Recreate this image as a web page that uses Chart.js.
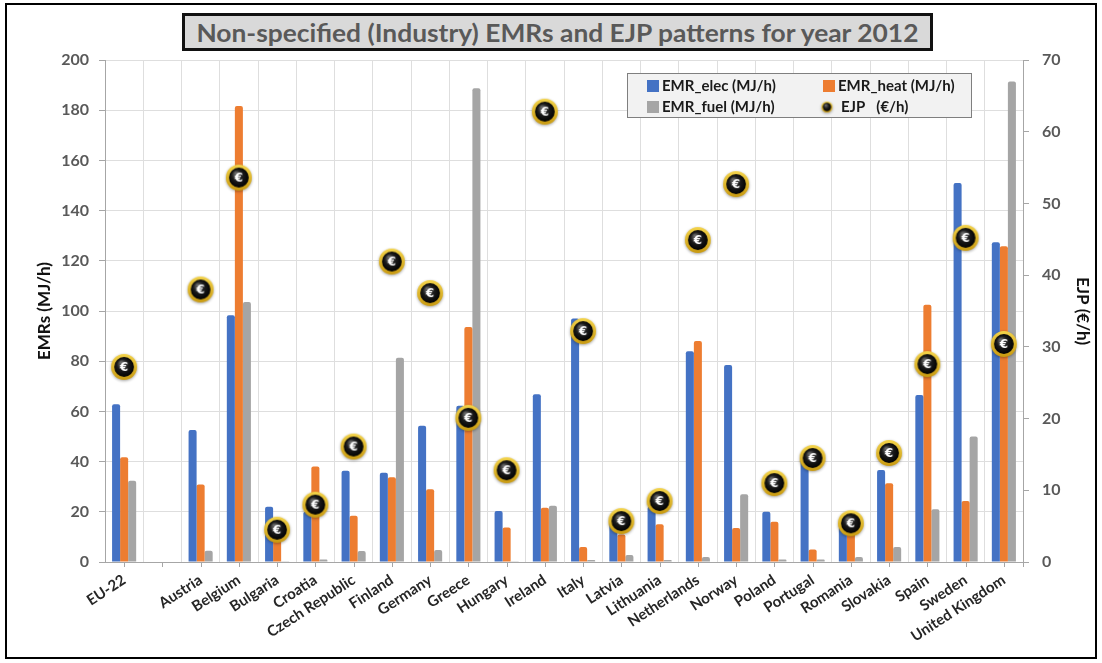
<!DOCTYPE html>
<html>
<head>
<meta charset="utf-8">
<script src="https://cdn.jsdelivr.net/npm/chart.js@4/dist/chart.umd.min.js"></script>
<style>
  html, body { margin: 0; padding: 0; background: #fff; }
  #wrap { position: relative; width: 1102px; height: 663px; overflow: hidden; background: #fff; }
  #chart { position: absolute; left: 0; top: 0; }
  #frame { position: absolute; left: 5px; top: 3px; width: 1092px; height: 656px; border: 2px solid #000; box-sizing: border-box; pointer-events: none; }
  #title { position: absolute; left: 182px; top: 13px; width: 751px; height: 38px; box-sizing: border-box;
           border: 3px solid #111; background: #d9d9d9; color: #595959; font: bold 25px Lato, sans-serif;
           display: flex; align-items: center; justify-content: center; white-space: nowrap; overflow: hidden; }
  #title span { display: inline-block; transform-origin: center center; }
</style>
</head>
<body>
<div id="wrap">
  <canvas id="chart" width="1102" height="663"></canvas>
  <div id="frame"></div>
  <div id="title"><span id="titleText">Non-specified (Industry) EMRs and EJP patterns for year 2012</span></div>
</div>
<script>
// Countries (the empty slot separates the EU-22 aggregate from the member states)
const categories = ['EU-22', '', 'Austria', 'Belgium', 'Bulgaria', 'Croatia', 'Czech Republic', 'Finland',
  'Germany', 'Greece', 'Hungary', 'Ireland', 'Italy', 'Latvia', 'Lithuania', 'Netherlands', 'Norway',
  'Poland', 'Portugal', 'Romania', 'Slovakia', 'Spain', 'Sweden', 'United Kingdom'];

// Energy rates in MJ/h (left axis)
const emrElec = [62.8, null, 52.6, 98.3, 22, 20, 36.4, 35.6, 54.3, 62.3, 20.3, 66.8, 97, 16, 22, 84, 78.5, 20, 41, 14, 36.7, 66.5, 151, 127.4];
const emrHeat = [41.7, null, 30.9, 181.7, 9, 38, 18.4, 33.8, 29, 93.6, 13.7, 21.6, 6, 11, 15, 88, 13.5, 16, 5, 12, 31.4, 102.5, 24.3, 125.8];
const emrFuel = [32.4, null, 4.5, 103.6, 0.3, 1, 4.4, 81.4, 4.8, 188.7, 0.3, 22.4, 0.8, 2.8, 0.8, 2, 27, 1, 1, 2, 6, 21, 50, 191.4];

// Energy job price in €/h (right axis)
const ejp = [27.2, null, 38.0, 53.6, 4.5, 8.0, 16.1, 41.9, 37.5, 20.1, 12.8, 62.8, 32.2, 5.7, 8.5, 44.9, 52.7, 11.0, 14.5, 5.4, 15.2, 27.6, 45.2, 30.4];

// Axis ranges
const emrAxis = { min: 0, max: 200, step: 20 };
const ejpAxis = { min: 0, max: 70, step: 10 };

const COLORS = { elec: '#4472C4', heat: '#ED7D31', fuel: '#A5A5A5', gold: '#E2B61C' };

// Black coin with a gold rim and a white euro sign
function euroCoin(r, withSign) {
  const size = Math.ceil(r * 2 + 8);
  const c = document.createElement('canvas');
  c.width = size; c.height = size;
  const g = c.getContext('2d');
  const cx = size / 2, cy = size / 2;
  g.shadowColor = 'rgba(0,0,0,0.35)';
  g.shadowBlur = 3;
  g.shadowOffsetY = 1;
  g.beginPath(); g.arc(cx, cy, r, 0, Math.PI * 2);
  const rim = g.createLinearGradient(0, cy - r, 0, cy + r);
  rim.addColorStop(0, '#F3D34A'); rim.addColorStop(1, '#C99A10');
  g.fillStyle = rim; g.fill();
  g.shadowColor = 'transparent';
  const inner = g.createRadialGradient(cx - r * 0.25, cy - r * 0.35, 0.5, cx, cy, r * 0.8);
  inner.addColorStop(0, '#6a6a6a'); inner.addColorStop(0.5, '#1c1c1c'); inner.addColorStop(1, '#000');
  g.beginPath(); g.arc(cx, cy, r * 0.76, 0, Math.PI * 2);
  g.fillStyle = inner; g.fill();
  if (withSign) {
    g.fillStyle = '#fff';
    g.font = 'bold ' + Math.round(r * 0.95) + 'px "DejaVu Sans"';
    g.textAlign = 'center'; g.textBaseline = 'middle';
    g.fillText('€', cx, cy + 1);
  }
  return c;
}

// Legend box placed inside the plot area, two columns by two rows
const insideLegend = {
  id: 'insideLegend',
  afterDraw(chart) {
    const ctx = chart.ctx;
    const box = { x: 627.5, y: 73.5, w: 344, h: 44 };
    ctx.save();
    ctx.fillStyle = '#f2f2f2';
    ctx.strokeStyle = '#7f7f7f';
    ctx.lineWidth = 1;
    ctx.fillRect(box.x, box.y, box.w, box.h);
    ctx.strokeRect(box.x, box.y, box.w, box.h);
    ctx.font = 'bold 15px Lato';
    ctx.textBaseline = 'middle';
    const slots = [[647, 86], [823, 86], [647, 107], [823, 107]];
    chart.data.datasets.forEach((ds, k) => {
      const [sx, sy] = slots[k];
      if (ds.type === 'line') {
        ctx.drawImage(legendCoin, sx + 4 - legendCoin.width / 2, sy - legendCoin.height / 2);
        ctx.fillStyle = '#1a1a1a';
        ctx.fillText(ds.label, sx + 18, sy);
      } else {
        ctx.fillStyle = ds.backgroundColor;
        ctx.fillRect(sx, sy - 6, 12, 12);
        ctx.fillStyle = '#1a1a1a';
        ctx.fillText(ds.label, sx + 15, sy);
      }
    });
    ctx.restore();
  }
};

// Small tick marks under each category centre on the horizontal axis
const centreTicks = {
  id: 'centreTicks',
  afterDraw(chart) {
    const xs = chart.scales.x;
    const ctx = chart.ctx;
    ctx.save();
    ctx.strokeStyle = '#a6a6a6';
    ctx.lineWidth = 1;
    ctx.beginPath();
    for (let i = 0; i < categories.length; i++) {
      const px = Math.round(xs.getPixelForValue(i)) + 0.5;
      ctx.moveTo(px, xs.top); ctx.lineTo(px, xs.top + 5);
    }
    const end = Math.round(xs.right) + 0.5;
    ctx.moveTo(end, xs.top); ctx.lineTo(end, xs.top + 5);
    ctx.stroke();
    ctx.restore();
  }
};

let legendCoin;

function fitTitle() {
  const span = document.getElementById('titleText');
  const w = span.getBoundingClientRect().width;
  const target = 722;
  span.style.transform = 'scaleX(' + (target / w).toFixed(4) + ')';
}

function build() {
  fitTitle();
  const coin = euroCoin(13, true);
  legendCoin = euroCoin(5.5, false);

  const tickFont = { family: 'Lato', weight: 'bold', size: 16 };
  const tickColor = '#595959';

  new Chart(document.getElementById('chart'), {
    data: {
      labels: categories,
      datasets: [
        { type: 'bar', label: 'EMR_elec (MJ/h)', data: emrElec, backgroundColor: COLORS.elec, yAxisID: 'y', order: 2,
          borderRadius: { topLeft: 2, topRight: 2 }, borderSkipped: 'bottom' },
        { type: 'bar', label: 'EMR_heat (MJ/h)', data: emrHeat, backgroundColor: COLORS.heat, yAxisID: 'y', order: 2,
          borderRadius: { topLeft: 2, topRight: 2 }, borderSkipped: 'bottom' },
        { type: 'bar', label: 'EMR_fuel (MJ/h)', data: emrFuel, backgroundColor: COLORS.fuel, yAxisID: 'y', order: 2,
          borderRadius: { topLeft: 2, topRight: 2 }, borderSkipped: 'bottom' },
        { type: 'line', label: 'EJP   (€/h)', data: ejp, yAxisID: 'y1', order: 0, showLine: false,
          pointStyle: coin, pointRadius: 13, pointHoverRadius: 13, backgroundColor: COLORS.gold, borderColor: COLORS.gold }
      ]
    },
    options: {
      responsive: false,
      animation: false,
      devicePixelRatio: 1,
      layout: { padding: { top: 60, left: 0, right: 0, bottom: 0 } },
      datasets: { bar: { categoryPercentage: 0.63, barPercentage: 1.0 } },
      plugins: { legend: { display: false }, tooltip: { enabled: false }, title: { display: false } },
      scales: {
        x: {
          grid: { offset: true, color: '#dedede', drawTicks: false },
          border: { color: '#a6a6a6' },
          ticks: { autoSkip: false, maxRotation: 33, minRotation: 33, padding: 9,
                   font: { family: 'Lato', weight: 'bold', size: 15 }, color: '#262626' },
          afterFit(s) { s.height = 101; }
        },
        y: {
          position: 'left',
          min: emrAxis.min, max: emrAxis.max,
          ticks: { stepSize: emrAxis.step, padding: 10, font: tickFont, color: tickColor },
          grid: { color: '#dedede', tickLength: 6, tickColor: '#a6a6a6' },
          border: { color: '#a6a6a6' },
          title: { display: true, text: 'EMRs (MJ/h)', color: '#111', font: { family: 'Lato', weight: 'bold', size: 17 },
                   padding: { top: 34, bottom: 0 } },
          afterFit(s) { s.width = 105; }
        },
        y1: {
          position: 'right',
          min: ejpAxis.min, max: ejpAxis.max,
          ticks: { stepSize: ejpAxis.step, padding: 13, font: tickFont, color: tickColor },
          grid: { drawOnChartArea: false, tickLength: 6, tickColor: '#a6a6a6' },
          border: { color: '#a6a6a6' },
          title: { display: true, text: 'EJP (€/h)', color: '#111', font: { family: 'Lato', weight: 'bold', size: 17 },
                   padding: { top: 9, bottom: 0 } },
          afterFit(s) { s.width = 79; }
        }
      }
    },
    plugins: [insideLegend, centreTicks]
  });
}

Promise.all([
  document.fonts.load('bold 15px Lato'),
  document.fonts.load('bold 25px Lato'),
  document.fonts.load('bold 13px "DejaVu Sans"')
]).then(build, build);
</script>
</body>
</html>
